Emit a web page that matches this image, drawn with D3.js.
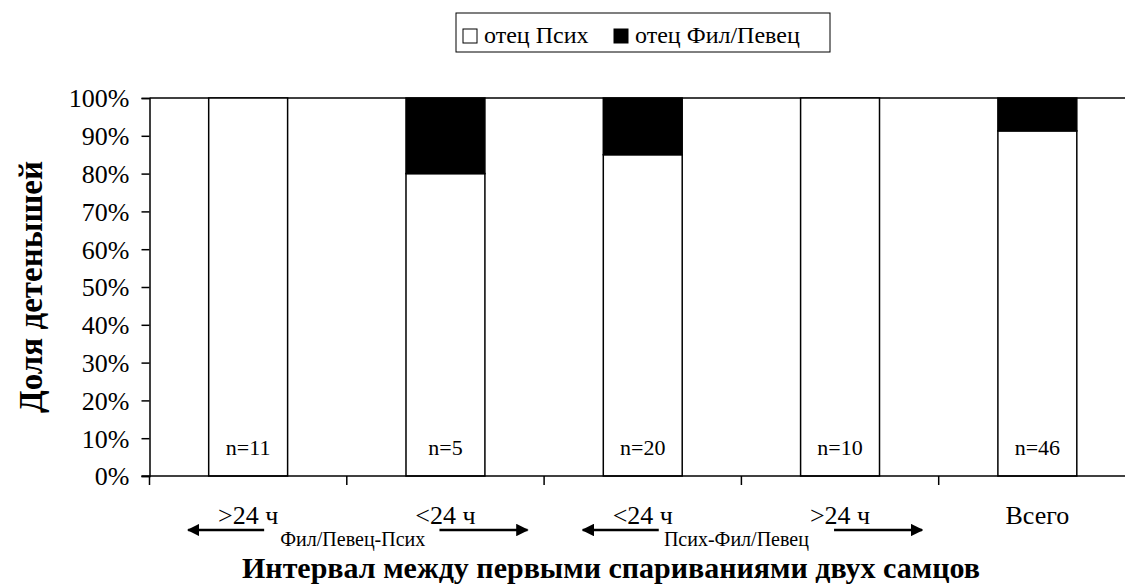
<!DOCTYPE html>
<html><head><meta charset="utf-8">
<script src="https://cdn.jsdelivr.net/npm/d3@7"></script>
</head><body style="margin:0;background:#fff"><svg id="c" width="1125" height="586" style="display:block"></svg>
<script>
const categories = [">24 ч", "<24 ч", "<24 ч", ">24 ч", "Всего"];
const nLabels = ["n=11", "n=5", "n=20", "n=10", "n=46"];
const psych = [100, 80, 85, 100, 91.3];
const filPevec = [0, 20, 15, 0, 8.7];
const seriesNames = ["отец Псих", "отец Фил/Певец"];
const yTicks = [0, 10, 20, 30, 40, 50, 60, 70, 80, 90, 100];
const groupLabels = ["Фил/Певец-Псих", "Псих-Фил/Певец"];
const xTitle = "Интервал между первыми спариваниями двух самцов";
const yTitle = "Доля детенышей";

const FONT = "'Liberation Serif'";
const svg = d3.select("#c");
const T = (sel) => sel.append("text").style("font-family", FONT).attr("fill", "#000");
const mLeft = 149.5, mTop = 98, mBottom = 476, step = 197.3;
const x = d3.scaleBand().domain(d3.range(categories.length)).range([mLeft, mLeft + step * categories.length]).paddingInner(0.6).paddingOuter(0.3);
const y = d3.scaleLinear().domain([0, 100]).range([mBottom, mTop]);

svg.append("line").attr("x1", mLeft).attr("x2", 1125).attr("y1", y(100)).attr("y2", y(100)).attr("stroke", "#000").attr("stroke-width", 1.5);

const stackData = categories.map((c, i) => ({i, a: psych[i], b: filPevec[i]}));
const g = svg.append("g");
stackData.forEach(d => {
  g.append("rect").attr("x", x(d.i)).attr("width", x.bandwidth()).attr("y", y(d.a)).attr("height", y(0) - y(d.a))
    .attr("fill", "#fff").attr("stroke", "#000").attr("stroke-width", 1.5);
  if (d.b > 0) g.append("rect").attr("x", x(d.i)).attr("width", x.bandwidth()).attr("y", y(d.a + d.b)).attr("height", y(d.a) - y(d.a + d.b))
    .attr("fill", "#000").attr("stroke", "#000").attr("stroke-width", 1.5);
  T(g).attr("x", x(d.i) + x.bandwidth() / 2).attr("y", 455).attr("text-anchor", "middle").attr("font-size", 22).text(nLabels[d.i]);
});

const yAxis = d3.axisLeft(y).tickValues(yTicks).tickFormat(d => d + "%").tickSize(8).tickPadding(12);
const ya = svg.append("g").attr("transform", `translate(${mLeft},0)`).call(yAxis);
ya.attr("font-family", null).style("font-family", FONT);
ya.select(".domain").attr("stroke-width", 1.5);
ya.selectAll(".tick line").attr("stroke-width", 1.5);
ya.selectAll("text").attr("font-size", 26).attr("fill", "#000").attr("dy", "0.34em").style("font-family", FONT);

const xl = d3.scaleLinear().domain([0, categories.length]).range([mLeft, mLeft + step * categories.length]);
svg.append("line").attr("x1", mLeft - 8).attr("x2", 1125).attr("y1", mBottom).attr("y2", mBottom).attr("stroke", "#000").attr("stroke-width", 1.5);
d3.range(categories.length).forEach(i => {
  svg.append("line").attr("x1", xl(i)).attr("x2", xl(i)).attr("y1", mBottom).attr("y2", mBottom + 9).attr("stroke", "#000").attr("stroke-width", 1.5);
});
categories.forEach((c, i) => {
  T(svg).attr("x", x(i) + x.bandwidth() / 2).attr("y", 524).attr("text-anchor", "middle").attr("font-size", 26).text(c);
});

const defs = svg.append("defs");
defs.append("marker").attr("id", "ah").attr("viewBox", "0 0 10 10").attr("refX", 9).attr("refY", 5)
  .attr("markerWidth", 5).attr("markerHeight", 5).attr("markerUnits", "strokeWidth").attr("orient", "auto")
  .append("path").attr("d", "M0,0 L10,5 L0,10 Z").attr("fill", "#000");
const arrows = [[0, -1], [1, 1], [2, -1], [3, 1]];
arrows.forEach(([i, dir]) => {
  const cx = x(i) + x.bandwidth() / 2;
  const x1 = dir < 0 ? cx + 16 : cx - 6;
  const x2 = dir < 0 ? cx - 60 : cx + 82;
  svg.append("line").attr("x1", x1).attr("x2", x2).attr("y1", 530).attr("y2", 530)
    .attr("stroke", "#000").attr("stroke-width", 2.5).attr("marker-end", "url(#ah)");
});
groupLabels.forEach((t, k) => {
  const cx = (x(2 * k) + x(2 * k + 1) + x.bandwidth()) / 2 + (k === 0 ? 6 : -5);
  T(svg).attr("x", cx).attr("y", 546).attr("text-anchor", "middle").attr("font-size", 20).text(t);
});

T(svg).attr("x", 611).attr("y", 578).attr("text-anchor", "middle").attr("font-size", 30).attr("font-weight", "bold").text(xTitle);
T(svg).attr("transform", "translate(42,287) rotate(-90)").attr("text-anchor", "middle").attr("font-size", 33).attr("font-weight", "bold").text(yTitle);

const lg = svg.append("g");
lg.append("rect").attr("x", 456).attr("y", 13).attr("width", 374).attr("height", 39).attr("fill", "#fff").attr("stroke", "#000").attr("stroke-width", 1);
const lx = [463, 614];
seriesNames.forEach((s, i) => {
  lg.append("rect").attr("x", lx[i]).attr("y", 29).attr("width", 14).attr("height", 14).attr("fill", i ? "#000" : "#fff").attr("stroke", "#000").attr("stroke-width", 1);
  T(lg).attr("x", lx[i] + 21).attr("y", 43).attr("font-size", 24).text(s);
});
</script></body></html>
